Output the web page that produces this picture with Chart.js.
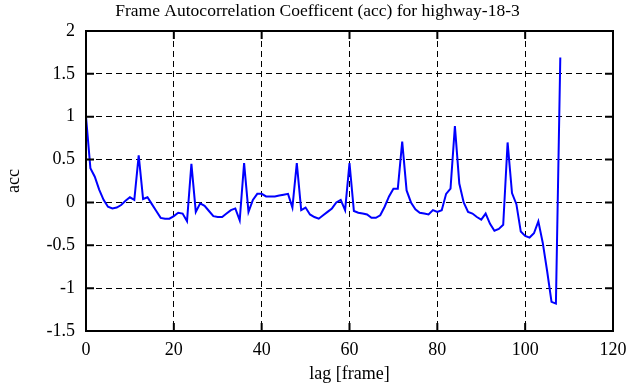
<!DOCTYPE html>
<html lang="en">
<head>
    <meta charset="UTF-8" />
    <title>Frame Autocorrelation Coefficent</title>
    <script src="https://cdn.jsdelivr.net/npm/chart.js@4.4.0/dist/chart.umd.min.js"></script>
    <style>
        html, body { margin: 0; padding: 0; background: #fff; }
        #wrap { width: 635px; height: 387px; }
    </style>
</head>
<body>
    <div id="wrap"><canvas id="accChart"></canvas></div>

    <script>
        // lag in frames, 0..108
        const lags = [];
        for (let i = 0; i <= 108; i++) lags.push(i);

        // acc
        const accValues = [
            1.00, 0.40, 0.30, 0.15, 0.03, -0.05, -0.07, -0.06, -0.03, 0.02,
            0.06, 0.03, 0.55, 0.04, 0.06, -0.02, -0.10, -0.18, -0.19, -0.19,
            -0.16, -0.12, -0.13, -0.22, 0.45, -0.11, -0.01, -0.04, -0.10, -0.16,
            -0.17, -0.17, -0.13, -0.09, -0.07, -0.21, 0.46, -0.11, 0.03, 0.10,
            0.10, 0.07, 0.07, 0.07, 0.08, 0.09, 0.10, -0.06, 0.46, -0.09,
            -0.06, -0.14, -0.17, -0.19, -0.15, -0.11, -0.07, 0.00, 0.03, -0.09,
            0.46, -0.10, -0.12, -0.13, -0.14, -0.18, -0.18, -0.15, -0.05, 0.07,
            0.16, 0.16, 0.71, 0.14, 0.00, -0.08, -0.12, -0.13, -0.14, -0.09,
            -0.11, -0.09, 0.10, 0.16, 0.89, 0.22, 0.00, -0.11, -0.13, -0.17,
            -0.20, -0.13, -0.25, -0.33, -0.31, -0.26, 0.70, 0.11, -0.02, -0.34,
            -0.39, -0.41, -0.36, -0.22, -0.47, -0.80, -1.16, -1.18, 1.69
        ];

        const xTicks = [0, 20, 40, 60, 80, 100, 120];
        const yTicks = [-1.5, -1, -0.5, 0, 0.5, 1, 1.5, 2];
        const chartTitle = 'Frame Autocorrelation Coefficent (acc) for highway-18-3';

        const serif = "'Liberation Serif', 'DejaVu Serif', serif";

        // box round the plot, inward tick marks, title centred on the whole figure
        const boxPlugin = {
            id: 'box',
            afterDraw(chart) {
                const { ctx, chartArea: a, scales } = chart;
                const len = 8;
                ctx.save();
                ctx.strokeStyle = '#000';
                ctx.lineWidth = 2;
                ctx.strokeRect(a.left, a.top, a.right - a.left, a.bottom - a.top);
                ctx.beginPath();
                xTicks.forEach(v => {
                    const x = scales.x.getPixelForValue(v);
                    ctx.moveTo(x, a.bottom); ctx.lineTo(x, a.bottom - len);
                    ctx.moveTo(x, a.top); ctx.lineTo(x, a.top + len);
                });
                yTicks.forEach(v => {
                    const y = scales.y.getPixelForValue(v);
                    ctx.moveTo(a.left, y); ctx.lineTo(a.left + len, y);
                    ctx.moveTo(a.right, y); ctx.lineTo(a.right - len, y);
                });
                ctx.stroke();

                ctx.fillStyle = '#000';
                ctx.font = '17.5px ' + serif;
                ctx.textAlign = 'center';
                ctx.textBaseline = 'middle';
                ctx.fillText(chartTitle, chart.width / 2, 11);
                ctx.restore();
            }
        };

        new Chart(document.getElementById('accChart'), {
            type: 'line',
            data: {
                labels: lags,
                datasets: [{
                    data: lags.map((l, i) => ({ x: l, y: accValues[i] })),
                    borderColor: '#0000ff',
                    borderWidth: 2,
                    pointRadius: 0,
                    tension: 0,
                    fill: false
                }]
            },
            options: {
                responsive: true,
                maintainAspectRatio: false,
                animation: false,
                layout: { padding: { top: 31, right: 22, left: 0, bottom: 0 } },
                plugins: {
                    legend: { display: false },
                    tooltip: { enabled: false },
                    title: { display: false }
                },
                scales: {
                    x: {
                        type: 'linear',
                        min: 0,
                        max: 120,
                        afterFit(scale) { scale.height = 56; },
                        ticks: {
                            stepSize: 20,
                            color: '#000',
                            padding: 8,
                            maxRotation: 0,
                            font: { family: serif, size: 18 }
                        },
                        grid: { color: '#000', lineWidth: 1, drawTicks: false },
                        border: { display: false, dash: [6, 4] },
                        title: {
                            display: true,
                            text: 'lag [frame]',
                            color: '#000',
                            font: { family: serif, size: 18 },
                            padding: { top: 0, bottom: 2 }
                        }
                    },
                    y: {
                        min: -1.5,
                        max: 2,
                        afterFit(scale) { scale.width = 86; },
                        ticks: {
                            stepSize: 0.5,
                            color: '#000',
                            padding: 11,
                            font: { family: serif, size: 18 },
                            callback: v => String(v)
                        },
                        grid: { color: '#000', lineWidth: 1, drawTicks: false },
                        border: { display: false, dash: [6, 4] },
                        title: {
                            display: true,
                            text: 'acc',
                            color: '#000',
                            font: { family: serif, size: 18 },
                            padding: { top: 3, bottom: 0 }
                        }
                    }
                }
            },
            plugins: [boxPlugin]
        });
    </script>
</body>
</html>
